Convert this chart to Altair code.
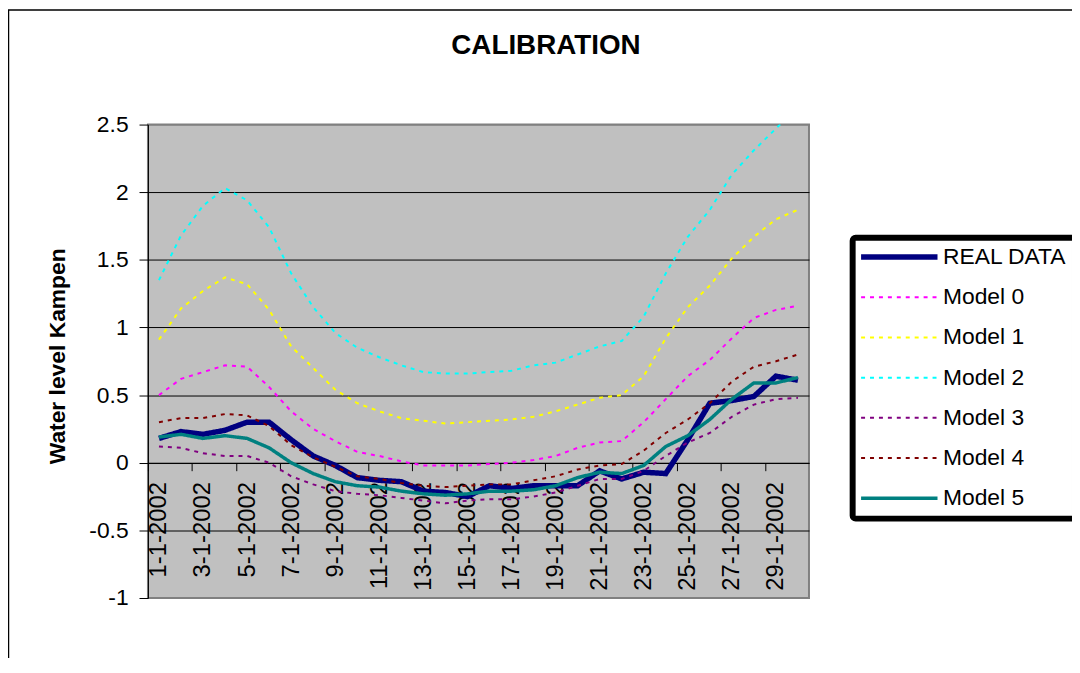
import altair as alt
import pandas as pd

dates = ["1-1-2002", "2-1-2002", "3-1-2002", "4-1-2002", "5-1-2002", "6-1-2002",
         "7-1-2002", "8-1-2002", "9-1-2002", "10-1-2002", "11-1-2002", "12-1-2002",
         "13-1-2002", "14-1-2002", "15-1-2002", "16-1-2002", "17-1-2002", "18-1-2002",
         "19-1-2002", "20-1-2002", "21-1-2002", "22-1-2002", "23-1-2002", "24-1-2002",
         "25-1-2002", "26-1-2002", "27-1-2002", "28-1-2002", "29-1-2002", "30-1-2002"]
x_label_dates = ["1-1-2002", "3-1-2002", "5-1-2002", "7-1-2002", "9-1-2002",
                 "11-1-2002", "13-1-2002", "15-1-2002", "17-1-2002", "19-1-2002",
                 "21-1-2002", "23-1-2002", "25-1-2002", "27-1-2002", "29-1-2002"]
y_ticks = [-1, -0.5, 0, 0.5, 1, 1.5, 2, 2.5]

series_names = ["REAL DATA", "Model 0", "Model 1", "Model 2", "Model 3", "Model 4", "Model 5"]

real_data = [0.18, 0.23, 0.21, 0.24, 0.30, 0.30, 0.17, 0.05, -0.02, -0.11,
             -0.13, -0.14, -0.21, -0.22, -0.25, -0.17, -0.19, -0.17, -0.17, -0.17,
             -0.06, -0.12, -0.07, -0.08, 0.17, 0.44, 0.46, 0.49, 0.64, 0.61]
model0 = [0.50, 0.62, 0.67, 0.72, 0.71, 0.56, 0.38, 0.25, 0.16, 0.08,
          0.05, 0.01, -0.02, -0.02, -0.02, -0.01, 0.00, 0.02, 0.05, 0.11,
          0.15, 0.16, 0.30, 0.47, 0.64, 0.76, 0.92, 1.07, 1.13, 1.16]
model1 = [0.91, 1.14, 1.27, 1.37, 1.32, 1.13, 0.86, 0.70, 0.54, 0.44,
          0.38, 0.33, 0.31, 0.29, 0.30, 0.31, 0.32, 0.34, 0.38, 0.43,
          0.48, 0.50, 0.64, 0.92, 1.15, 1.31, 1.51, 1.67, 1.80, 1.87]
model2 = [1.35, 1.68, 1.90, 2.03, 1.94, 1.74, 1.40, 1.15, 0.96, 0.85,
          0.78, 0.72, 0.67, 0.66, 0.66, 0.67, 0.68, 0.72, 0.74, 0.80,
          0.86, 0.90, 1.08, 1.40, 1.67, 1.87, 2.13, 2.31, 2.47, 2.63]
model3 = [0.12, 0.11, 0.07, 0.05, 0.05, 0.00, -0.10, -0.16, -0.21, -0.23,
          -0.24, -0.26, -0.28, -0.30, -0.28, -0.27, -0.27, -0.25, -0.22, -0.17,
          -0.12, -0.12, -0.06, 0.05, 0.15, 0.22, 0.34, 0.43, 0.47, 0.48]
model4 = [0.30, 0.33, 0.33, 0.36, 0.35, 0.27, 0.13, 0.04, -0.03, -0.10,
          -0.12, -0.15, -0.17, -0.18, -0.17, -0.16, -0.16, -0.13, -0.10, -0.05,
          -0.02, -0.01, 0.09, 0.22, 0.32, 0.44, 0.60, 0.71, 0.75, 0.80]
model5 = [0.19, 0.21, 0.18, 0.20, 0.18, 0.11, 0.00, -0.08, -0.14, -0.17,
          -0.18, -0.21, -0.23, -0.24, -0.23, -0.21, -0.21, -0.20, -0.17, -0.11,
          -0.07, -0.08, -0.02, 0.12, 0.20, 0.32, 0.47, 0.59, 0.59, 0.63]

all_series = [real_data, model0, model1, model2, model3, model4, model5]

colors = ["#000080", "#FF00FF", "#FFFF00", "#00FFFF", "#800080", "#800000", "#008080"]
widths = [5.5, 2, 2, 2, 2, 2, 3.5]
dashes = [[1, 0], [4, 5], [4, 5], [4, 5], [4, 5], [4, 5], [1, 0]]

rows = []
for s_idx, (name, vals) in enumerate(zip(series_names, all_series)):
    for order, (d, v) in enumerate(zip(dates, vals)):
        rows.append({"series": name, "date": d, "value": v, "order": order, "s": s_idx})
df = pd.DataFrame(rows)

FONT = "Liberation Sans"
W, H = 666, 477
step = W / len(dates)

legend = alt.Legend(
    title=None, orient="none", legendX=710, legendY=114,
    symbolType="M-2,0H12", symbolSize=121, labelOffset=60,
    labelFont=FONT, labelFontSize=23, labelColor="black", labelLimit=400,
    fillColor="white", strokeColor="black", padding=8, cornerRadius=3,
    rowPadding=16.5,
)

x_enc = alt.X(
    "date:N", sort=dates,
    scale=alt.Scale(type="point", padding=0.5),
    axis=alt.Axis(
        title=None, values=x_label_dates, labelAngle=270, labelAlign="right",
        labelBaseline="middle", labelFont=FONT, labelFontSize=24, labelColor="black",
        labelPadding=11, tickSize=8, tickColor="black", domainColor="black",
        domainWidth=1, tickOffset=-step / 2, labelOffset=step / 2,
        offset=-(H / 3.5), grid=False, labelOverlap=False,
    ),
)

y_enc = alt.Y(
    "value:Q",
    scale=alt.Scale(domain=[-1, 2.5], nice=False, zero=False),
    axis=alt.Axis(
        values=y_ticks, labelExpr="'' + datum.value", labelFont=FONT,
        labelFontSize=23, labelColor="black", labelPadding=11, tickSize=9,
        tickColor="black", domainColor="black", grid=True,
        gridColor={"condition": {"test": "datum.value >= 2.5 || datum.value <= -1",
                                 "value": "#808080"}, "value": "black"},
        gridWidth=1,
        title="Water level Kampen", titleFont=FONT, titleFontSize=23,
        titleFontWeight="bold", titleColor="black", titleAngle=270,
        titleX=-91, titleY=233, titleAlign="center", titleBaseline="middle",
    ),
)

base = alt.Chart(df).mark_line(clip=True).encode(
    x=x_enc,
    y=y_enc,
    color=alt.Color("series:N", scale=alt.Scale(domain=series_names, range=colors), legend=legend),
    strokeDash=alt.StrokeDash("series:N", scale=alt.Scale(domain=series_names, range=dashes), legend=legend),
    strokeWidth=alt.StrokeWidth("series:N", scale=alt.Scale(type="ordinal", domain=series_names, range=widths), legend=legend),
    order="order:Q",
)

# one layer per series so REAL DATA is drawn first (underneath), as in the original
series_layers = [base.transform_filter(alt.datum.series == name) for name in series_names]

frame = alt.Chart(pd.DataFrame({"k": [0]})).mark_rect(
    fillOpacity=0, stroke="black", strokeWidth=1.5, clip=False
).encode(
    x=alt.value(-140.5), x2=alt.value(1400), y=alt.value(-115.5), y2=alt.value(1400)
)

chart = alt.layer(frame, *series_layers).properties(
    width=W, height=H,
    background="white",
    title=alt.TitleParams(
        text="CALIBRATION", font=FONT, fontSize=28, fontWeight="bold", color="black",
        anchor="middle", frame="group", dx=68, offset=-51,
    ),
    autosize=alt.AutoSizeParams(type="none"),
    padding={"left": 141, "top": 115, "right": 265, "bottom": 58},
).configure_view(
    fill="#C0C0C0", stroke="#808080", strokeWidth=2
).configure_legend(
    strokeWidth=6
)

chart.save("out.html", embed_options={"renderer": "svg", "actions": False})
